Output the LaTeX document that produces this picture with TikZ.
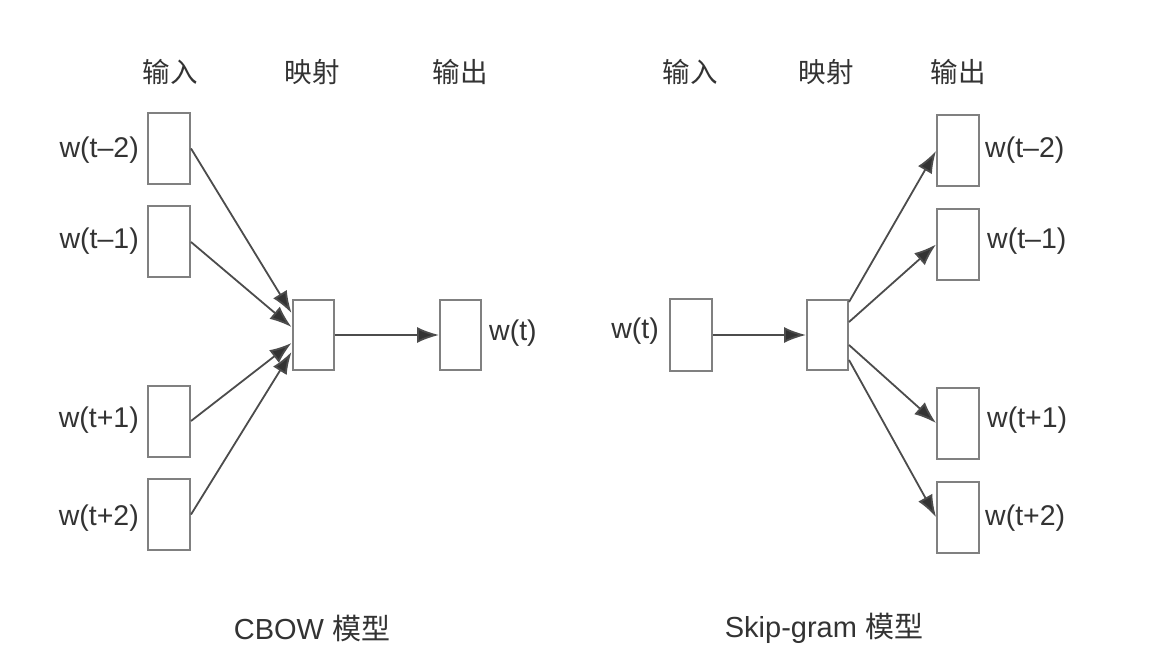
\documentclass[tikz,border=0pt]{standalone}
\usepackage{fontspec}
\setmainfont{Liberation Sans}
\newfontfamily\cjk{Noto Sans CJK SC}
\usetikzlibrary{arrows.meta}
\begin{document}
\begin{tikzpicture}[x=1pt,y=-1pt,
  wbox/.style={draw=black!50,line width=2pt,minimum width=42pt,minimum height=71pt,inner sep=0pt},
  conn/.style={draw=black!70,line width=1.8pt,-{Latex[length=22pt,width=16pt,fill=black!80]}},
  lbl/.style={text=black!80,font=\fontsize{28.5}{32}\selectfont,inner sep=0pt},
  captxt/.style={text=black!80,font=\fontsize{29}{32}\selectfont,inner sep=0pt},
  hdr/.style={text=black!80,font=\cjk\fontsize{27.5}{32}\selectfont,inner sep=0pt}]
\useasboundingbox[fill=white] (0,0) rectangle (1152,655);
% headers
\node[hdr] (h1) at (170,72) {输入};
\node[hdr] (h2) at (312,72) {映射};
\node[hdr] (h3) at (460,72) {输出};
\node[hdr] (h4) at (690,72) {输入};
\node[hdr] (h5) at (826,72) {映射};
\node[hdr] (h6) at (958,72) {输出};
% CBOW
\node[wbox] (in1) at (169,148.5) {};
\node[wbox] (in2) at (169,242) {};
\node[wbox] (in3) at (169,421) {};
\node[wbox] (in4) at (169,514.5) {};
\node[wbox,minimum width=41pt,minimum height=70pt] (proj) at (313,335) {};
\node[wbox,minimum width=41pt,minimum height=70pt] (out) at (460.5,335) {};
\node[lbl,anchor=east] (l1) at (139,150) {w(t–2)};
\node[lbl,anchor=east] (l2) at (139,241) {w(t–1)};
\node[lbl,anchor=east] (l3) at (139,420) {w(t+1)};
\node[lbl,anchor=east] (l4) at (139,518) {w(t+2)};
\node[lbl,anchor=west] (l5) at (489,333) {w(t)};
\draw[conn] (in1.east) -- ([yshift=22pt]proj.west);
\draw[conn] (in2.east) -- ([yshift=8pt]proj.west);
\draw[conn] (in3.east) -- ([yshift=-8pt]proj.west);
\draw[conn] (in4.east) -- ([yshift=-17pt]proj.west);
\draw[conn] (proj.east) -- (out.west);
\node[captxt] (c1) at (312,628) {CBOW {\cjk 模型}};
% Skip-gram
\node[wbox] (sin) at (691,335) {};
\node[wbox,minimum width=41pt,minimum height=70pt] (sproj) at (827.5,335) {};
\node[wbox] (so1) at (958,151) {};
\node[wbox] (so2) at (958,244.5) {};
\node[wbox] (so3) at (958,423) {};
\node[wbox] (so4) at (958,517) {};
\node[lbl,anchor=east] (s0) at (659,331) {w(t)};
\node[lbl,anchor=west] (s1) at (985,150) {w(t–2)};
\node[lbl,anchor=west] (s2) at (987,241) {w(t–1)};
\node[lbl,anchor=west] (s3) at (987,420) {w(t+1)};
\node[lbl,anchor=west] (s4) at (985,518) {w(t+2)};
\draw[conn] (sin.east) -- (sproj.west);
\draw[conn] ([yshift=-3pt]sproj.north east) -- (so1.west);
\draw[conn] ([yshift=13pt]sproj.east) -- (so2.west);
\draw[conn] ([yshift=-10pt]sproj.east) -- (so3.west);
\draw[conn] ([yshift=-25pt]sproj.east) -- (so4.west);
\node[captxt] (c2) at (824,628) {Skip-gram {\cjk 模型}};
\end{tikzpicture}
\end{document}
